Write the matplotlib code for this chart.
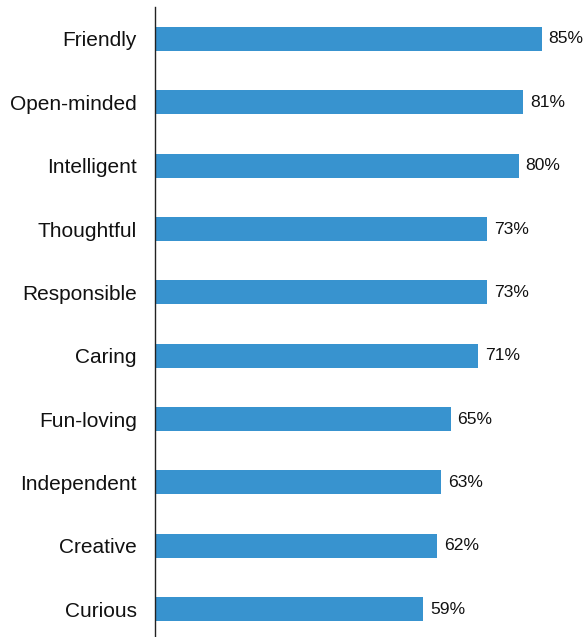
import matplotlib
matplotlib.use("Agg")
import matplotlib.pyplot as plt

traits = ["Friendly", "Open-minded", "Intelligent", "Thoughtful", "Responsible",
          "Caring", "Fun-loving", "Independent", "Creative", "Curious"]
percents = [85, 81, 80, 73, 73, 71, 65, 63, 62, 59]

bar_color = "#3893cf"

plt.rcParams["font.family"] = ["Liberation Sans", "DejaVu Sans"]

fig = plt.figure(figsize=(5.87, 6.37), dpi=100)
ax = fig.add_axes([155 / 587, 0.0, 432 / 587, 630 / 637])

# bottom-up order so Friendly ends on top
ys = list(range(len(traits)))[::-1]
bars = ax.barh(ys, percents, height=0.38, color=bar_color)

for y, v in zip(ys, percents):
    ax.annotate(f"{v}%", xy=(v, y), xytext=(5, 0), textcoords="offset points",
                va="center", ha="left", fontsize=12.6, color="#111111")

ax.set_yticks(ys)
ax.set_yticklabels(traits, fontsize=15, color="#111111")
ax.tick_params(axis="y", length=0, pad=13)
ax.set_xticks([])
ax.set_xlim(0, 95)
ax.set_ylim(-0.44, 9.505)

for side in ["top", "right", "bottom"]:
    ax.spines[side].set_visible(False)
ax.spines["left"].set_color("#222222")
ax.spines["left"].set_linewidth(1.0)

fig.savefig("out.png", dpi=100)
